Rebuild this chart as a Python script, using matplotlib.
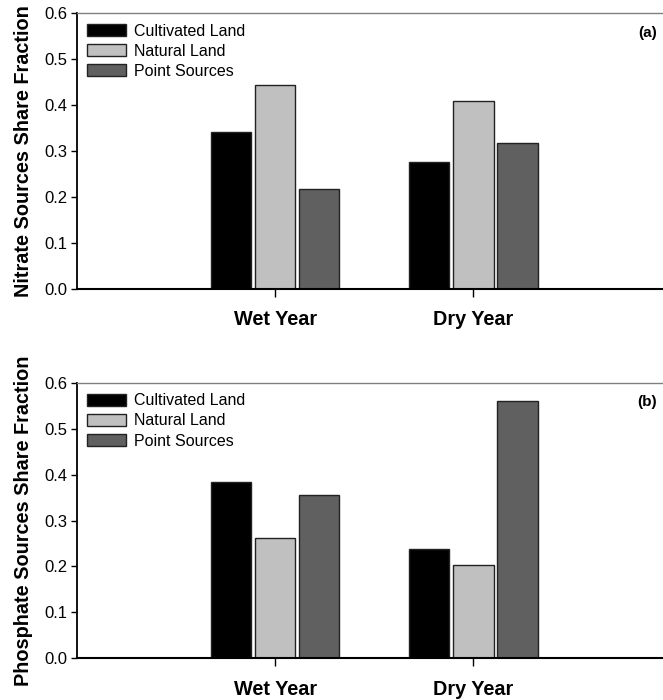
import numpy as np
import matplotlib
matplotlib.use("Agg")
import matplotlib.pyplot as plt

plt.rcParams['font.family'] = ['Liberation Sans', 'DejaVu Sans']

years = ["Wet Year", "Dry Year"]
sources = ["Cultivated Land", "Natural Land", "Point Sources"]
colors = ["#000000", "#c0c0c0", "#606060"]

# share fractions per source, (wet, dry)
nitrate = [
    [0.341, 0.275],
    [0.444, 0.410],
    [0.217, 0.318],
]
phosphate = [
    [0.385, 0.239],
    [0.263, 0.203],
    [0.356, 0.560],
]

panels = [
    ("Nitrate Sources Share Fraction", "(a)", nitrate, 0.5876),
    ("Phosphate Sources Share Fraction", "(b)", phosphate, 0.0596),
]

fig = plt.figure(figsize=(6.63, 7.0), dpi=100)

x = np.arange(1, len(years) + 1)
width = 0.203
step = 0.223

for ylabel, tag, data, bottom in panels:
    ax = fig.add_axes([0.116, bottom, 0.897, 0.3934])
    for i, (name, vals) in enumerate(zip(sources, data)):
        ax.bar(x + (i - 1) * step, vals, width, color=colors[i],
               edgecolor="#222222", linewidth=1.0, label=name)

    ax.set_xlim(0, 3)
    ax.set_ylim(0, 0.6)
    ax.set_yticks(np.arange(0, 0.61, 0.1))
    ax.set_yticklabels([f"{v:.1f}" for v in np.arange(0, 0.61, 0.1)])
    ax.set_xticks(x)
    ax.set_xticklabels(years, fontsize=14.3, fontweight="bold")
    ax.tick_params(axis="x", length=6, width=1, pad=9.5)
    ax.tick_params(axis="y", length=4, width=1, labelsize=12, pad=3)

    ax.set_ylabel(ylabel, fontsize=14.3, fontweight="bold", labelpad=8)

    ax.spines["right"].set_visible(False)
    ax.spines["top"].set_color("#808080")
    ax.spines["top"].set_linewidth(1.0)
    ax.spines["left"].set_linewidth(1.3)
    ax.spines["bottom"].set_linewidth(1.5)

    ax.legend(loc="upper left", frameon=False, fontsize=11.5,
              handlelength=2.4, handleheight=0.8, handletextpad=0.55,
              labelspacing=0.32, borderpad=0.4, borderaxespad=0.25)

    ax.text(0.975, 0.93, tag, transform=ax.transAxes, fontsize=11,
            fontweight="bold", ha="right", va="center")

fig.savefig("out.png", dpi=100)
